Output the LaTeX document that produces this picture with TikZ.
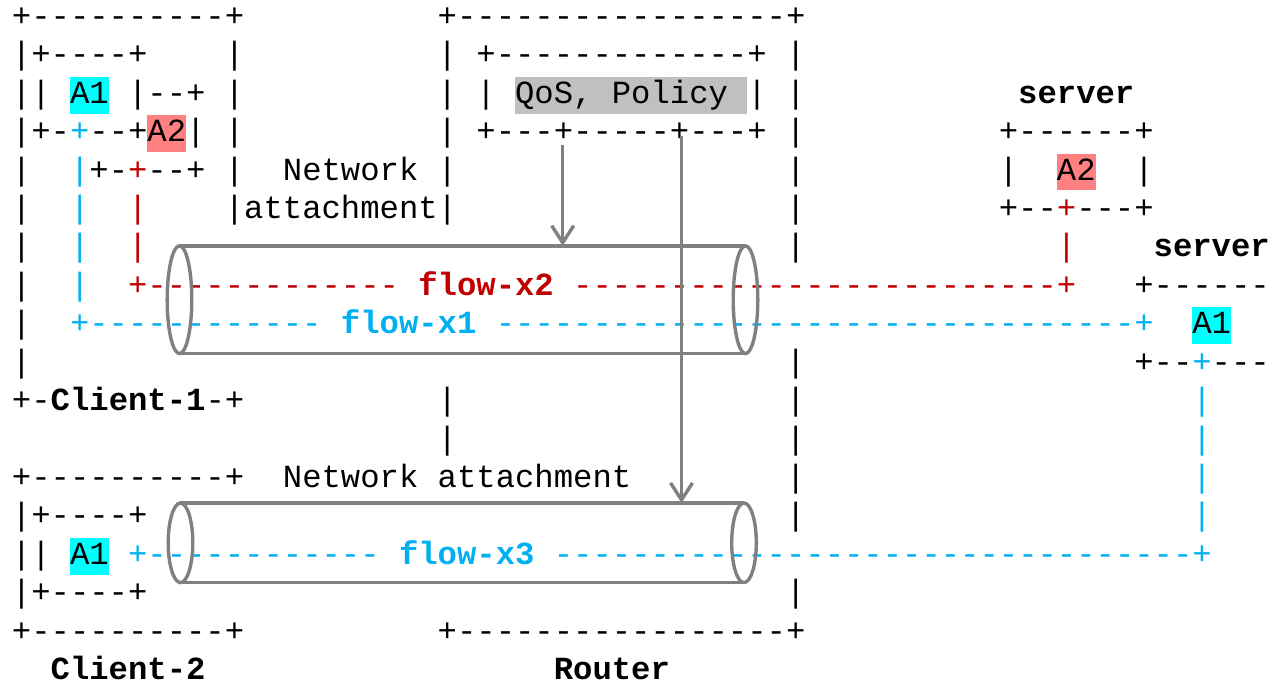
\documentclass[tikz,border=0pt]{standalone}
\usepackage{fontspec}
\setmonofont{Liberation Mono}
\usepackage{tikz}
\usetikzlibrary{calc,arrows.meta}
\definecolor{flowred}{HTML}{C00000}
\definecolor{flowblue}{HTML}{00B0F0}
\definecolor{hlcyan}{HTML}{00FFFF}
\definecolor{hlred}{HTML}{FF8080}
\definecolor{hlgray}{HTML}{C0C0C0}
\definecolor{pipegray}{HTML}{808080}
\newcommand\flr[1]{\textcolor{flowred}{#1}}
\newcommand\flb[1]{\textcolor{flowblue}{#1}}
\newcommand\hlbox[2]{{\fboxsep=0pt\colorbox{#1}{\rule[-0.32em]{0pt}{1.14em}#2}}}

\begin{document}
\begin{tikzpicture}[x=9.675pt, y=-19.205pt,
          ascii/.style={anchor=base west, inner sep=0pt, outer sep=0pt,
            font=\ttfamily\fontsize{16.125pt}{19.2pt}\selectfont},
          pipe/.style={draw=pipegray, line width=1.7pt},
          ctrl/.style={draw=pipegray, line width=1.7pt, -{Straight Barb[length=8.5pt,width=11pt]}},
        ]
        \useasboundingbox (-0.620,-0.690) rectangle (65.168,17.118);
        % Client-1
        \node[ascii] (c1a) at (0,0) {+----------+};
        \node[ascii] (c1b) at (0,1) {|+----+~~~~|};
        \node[ascii] (c1c) at (0,2) {||~\hlbox{hlcyan}{A1}~|--+~|};
        \node[ascii] (c1d) at (0,3) {|+-\flb{+}--+\hlbox{hlred}{A2}|~|};
        \node[ascii] (c1e) at (0,4) {|~~\flb{|}+-\flr{+}--+~|};
        \node[ascii] (c1f) at (0,5) {|~~\flb{|}~~\flr{|}~~~~|attachment};
        \node[ascii] (c1g) at (0,6) {|~~\flb{|}~~\flr{|}};
        \node[ascii] (c1h) at (0,7) {|~~\flb{|}};
        \node[ascii] (c1i) at (0,8) {|};
        \node[ascii] (c1j) at (0,9) {|};
        \node[ascii] (c1k) at (0,10) {+-\textbf{Client-1}-+};
        \node[ascii] (net1) at (14,4) {Network};
        % Router
        \node[ascii] (rta) at (22,0) {+-----------------+};
        \node[ascii] (rtb) at (22,1) {|~+-------------+~|};
        \node[ascii] (rtc) at (22,2) {|~|~\hlbox{hlgray}{QoS,~Policy~}|~|};
        \node[ascii] (rtd) at (22,3) {|~+---+-----+---+~|};
        \foreach \r in {4,5,10,11}
          \node[ascii] (rtw\r) at (22,\r) {|~~~~~~~~~~~~~~~~~|};
        \foreach \r in {6,9,12,13,15}
          \node[ascii] (rtr\r) at (40,\r) {|};
        \node[ascii] (rte) at (22,16) {+-----------------+};
        \node[ascii] (rtlabel) at (28,17) {\textbf{Router}};
        % servers
        \node[ascii] (s2label) at (52,2) {\textbf{server}};
        \node[ascii] (s2a) at (51,3) {+------+};
        \node[ascii] (s2b) at (51,4) {|~~\hlbox{hlred}{A2}~~|};
        \node[ascii] (s2c) at (51,5) {+--\flr{+}---+};
        \node[ascii] (s2d) at (54,6) {\flr{|}};
        \node[ascii] (s1label) at (59,6) {\textbf{server}};
        \node[ascii] (s1a) at (58,7) {+------};
        \node[ascii] (s1b) at (61,8) {\hlbox{hlcyan}{A1}};
        \node[ascii] (s1c) at (58,9) {+--\flb{+}---};
        \foreach \r in {10,...,13}
          \node[ascii] (s1v\r) at (61,\r) {\flb{|}};
        % Client-2
        \node[ascii] (c2a) at (0,12) {+----------+};
        \node[ascii] (net2) at (14,12) {Network~attachment};
        \node[ascii] (c2b) at (0,13) {|+----+};
        \node[ascii] (c2c) at (0,14) {||~\hlbox{hlcyan}{A1}};
        \node[ascii] (c2d) at (0,15) {|+----+};
        \node[ascii] (c2e) at (0,16) {+----------+};
        \node[ascii] (c2label) at (2,17) {\textbf{Client-2}};
        % flows
        \node[ascii, text=flowred] (fx2) at (6,7) {+-------------~\textbf{flow-x2}~-------------------------+};
        \node[ascii, text=flowblue] (fx1) at (3,8) {+------------~\textbf{flow-x1}~---------------------------------+};
        \node[ascii, text=flowblue] (fx3) at (6,14) {+------------~\textbf{flow-x3}~---------------------------------+};
        % pipes
        \coordinate (p1w) at (8.656,7.113);
        \coordinate (p1e) at (37.907,7.113);
        \coordinate (p2w) at (8.708,13.442);
        \coordinate (p2e) at (37.83,13.442);
        \draw[pipe] (p1w) ellipse [x radius=0.636, y radius=1.403];
        \draw[pipe] (p1e) ellipse [x radius=0.636, y radius=1.403];
        \draw[pipe] ($(p1w)+(0,-1.403)$) coordinate (p1n) -- ($(p1e)+(0,-1.403)$)
                    ($(p1w)+(0,1.403)$) -- ($(p1e)+(0,1.403)$);
        \draw[pipe] (p2w) ellipse [x radius=0.636, y radius=1.036];
        \draw[pipe] (p2e) ellipse [x radius=0.636, y radius=1.036];
        \draw[pipe] ($(p2w)+(0,-1.036)$) coordinate (p2n) -- ($(p2e)+(0,-1.036)$)
                    ($(p2w)+(0,1.036)$) -- ($(p2e)+(0,1.036)$);
        % QoS arrows
        \coordinate (q1) at (28.46,3.085);
        \coordinate (q2) at (34.6,2.85);
        \draw[ctrl] (q1) -- (q1 |- p1n);
        \draw[ctrl] (q2) -- (q2 |- p2n);
      \end{tikzpicture}
\end{document}
